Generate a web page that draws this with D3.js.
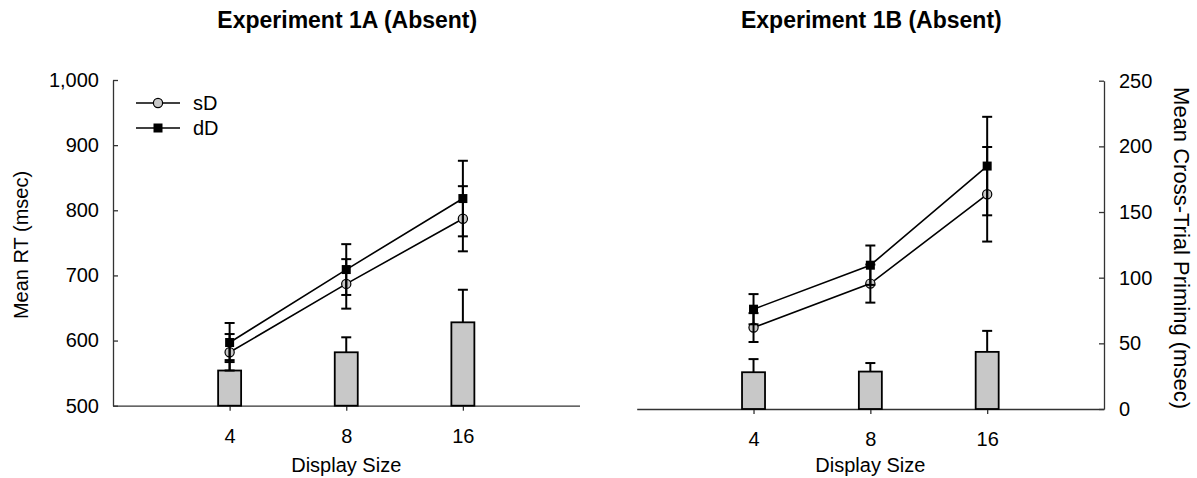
<!DOCTYPE html>
<html>
<head>
<meta charset="utf-8">
<script src="https://cdn.jsdelivr.net/npm/d3@7"></script>
<style>
  body { margin: 0; background: #fff; }
  svg { display: block; font-family: "Liberation Sans", Arial, Helvetica, sans-serif; }
</style>
</head>
<body>
<svg id="chart"></svg>
<script>
'use strict';

// display sizes on the x axis
var sizes = ['4', '8', '16'];

// Experiment 1A: mean RT (msec) and error bars
var exp1A_sD = [582, 687, 787];
var exp1A_sD_err = [28, 38, 50];
var exp1A_dD = [597, 709, 818];
var exp1A_dD_err = [30, 39, 58];
// cross-trial priming (msec), bars
var exp1A_prime = [27, 41, 64];
var exp1A_prime_err = [8, 11.5, 25];

// Experiment 1B
var exp1B_sD = [624, 691, 827];
var exp1B_sD_err = [22, 29, 72];
var exp1B_dD = [652, 719, 870];
var exp1B_dD_err = [23, 30, 75];
var exp1B_prime = [28, 28.5, 43.5];
var exp1B_prime_err = [10, 6.5, 16];

var rtTicks = [500, 600, 700, 800, 900, 1000];
var primeTicks = [0, 50, 100, 150, 200, 250];

var SVG_SIZE = { width: 1197, height: 478 };
var GREY = '#c8c8c8';
var AXIS = '#333';

var svg = d3.select('#chart')
    .attr('width', SVG_SIZE.width).attr('height', SVG_SIZE.height);

// draws one panel
function drawPanel(opt) {
    var x = d3.scaleLinear().domain([0, 4]).range([opt.left, opt.right]);
    var yRT = d3.scaleLinear().domain([500, 1000]).range([opt.bottom, opt.top]);
    var yPrime = d3.scaleLinear().domain([0, 250]).range([opt.bottom, opt.top]);
    var g = svg.append('g');

    // x axis
    var xAxis = d3.axisBottom(x)
        .tickValues([1, 2, 3])
        .tickFormat(function (d) { return sizes[d - 1]; })
        .tickSizeInner(5).tickSizeOuter(0).tickPadding(18);
    var xg = g.append('g')
        .attr('transform', 'translate(0,' + opt.bottom + ')')
        .call(xAxis);
    xg.selectAll('text').style('font-size', '20px').attr('fill', '#000');
    xg.selectAll('line,path').attr('stroke', AXIS).attr('stroke-width', 1.3);

    if (opt.side === 'left') {
        var yAxis = d3.axisLeft(yRT)
            .tickValues(rtTicks)
            .tickFormat(d3.format(','))
            .tickSizeInner(-5).tickSizeOuter(0).tickPadding(14);
        var yg = g.append('g')
            .attr('transform', 'translate(' + opt.left + ',0)')
            .call(yAxis);
        yg.selectAll('text').style('font-size', '20px').attr('fill', '#000');
        yg.selectAll('line,path').attr('stroke', AXIS).attr('stroke-width', 1.3);
    } else {
        var y2Axis = d3.axisRight(yPrime)
            .tickValues(primeTicks)
            .tickSizeInner(-5).tickSizeOuter(0).tickPadding(15);
        var y2g = g.append('g')
            .attr('transform', 'translate(' + opt.right + ',0)')
            .call(y2Axis);
        y2g.selectAll('text').style('font-size', '20px').attr('fill', '#000');
        y2g.selectAll('line,path').attr('stroke', AXIS).attr('stroke-width', 1.3);
    }

    var idx = [0, 1, 2];
    var barW = 23, cap = 5;

    // priming bars
    g.selectAll('rect.bar').data(idx).enter().append('rect')
        .attr('x', function (i) { return x(i + 1) - barW / 2; })
        .attr('y', function (i) { return yPrime(opt.prime[i]); })
        .attr('width', barW)
        .attr('height', function (i) { return yPrime(0) - yPrime(opt.prime[i]); })
        .attr('fill', GREY).attr('stroke', '#000').attr('stroke-width', 1.8);

    // one-sided bar error
    var be = g.selectAll('g.berr').data(idx).enter().append('g')
        .attr('stroke', '#000').attr('stroke-width', 2);
    be.append('line')
        .attr('x1', function (i) { return x(i + 1); })
        .attr('x2', function (i) { return x(i + 1); })
        .attr('y1', function (i) { return yPrime(opt.prime[i]); })
        .attr('y2', function (i) { return yPrime(opt.prime[i] + opt.primeErr[i]); });
    be.append('line')
        .attr('x1', function (i) { return x(i + 1) - cap; })
        .attr('x2', function (i) { return x(i + 1) + cap; })
        .attr('y1', function (i) { return yPrime(opt.prime[i] + opt.primeErr[i]); })
        .attr('y2', function (i) { return yPrime(opt.prime[i] + opt.primeErr[i]); });

    var series = [
        { vals: opt.sD, err: opt.sDErr, shape: 'circle' },
        { vals: opt.dD, err: opt.dDErr, shape: 'square' }
    ];

    var line = d3.line()
        .x(function (d, i) { return x(i + 1); })
        .y(function (d) { return yRT(d); });

    series.forEach(function (s) {
        g.append('path')
            .attr('d', line(s.vals))
            .attr('fill', 'none').attr('stroke', '#000').attr('stroke-width', 1.6);
    });

    series.forEach(function (s) {
        if (s.shape === 'circle') {
            g.selectAll(null).data(s.vals).enter().append('circle')
                .attr('cx', function (d, i) { return x(i + 1); })
                .attr('cy', function (d) { return yRT(d); })
                .attr('r', 4.6)
                .attr('fill', GREY).attr('stroke', '#000').attr('stroke-width', 1.2);
        } else {
            g.selectAll(null).data(s.vals).enter().append('rect')
                .attr('x', function (d, i) { return x(i + 1) - 4.5; })
                .attr('y', function (d) { return yRT(d) - 4.5; })
                .attr('width', 9).attr('height', 9)
                .attr('fill', '#000');
        }
    });

    // error bars for RT
    series.forEach(function (s) {
        var eg = g.selectAll(null).data(s.vals).enter().append('g')
            .attr('stroke', '#000').attr('stroke-width', 2);
        eg.append('line')
            .attr('x1', function (d, i) { return x(i + 1); })
            .attr('x2', function (d, i) { return x(i + 1); })
            .attr('y1', function (d, i) { return yRT(d + s.err[i]); })
            .attr('y2', function (d, i) { return yRT(d - s.err[i]); });
        [1, -1].forEach(function (sign) {
            eg.append('line')
                .attr('x1', function (d, i) { return x(i + 1) - cap; })
                .attr('x2', function (d, i) { return x(i + 1) + cap; })
                .attr('y1', function (d, i) { return yRT(d + sign * s.err[i]); })
                .attr('y2', function (d, i) { return yRT(d + sign * s.err[i]); });
        });
    });

    // titles
    var cx = x(2);
    g.append('text')
        .attr('x', cx + 1).attr('y', 28)
        .attr('text-anchor', 'middle')
        .style('font-size', '23px').style('font-weight', 'bold')
        .text(opt.title);
    g.append('text')
        .attr('x', cx).attr('y', 472)
        .attr('text-anchor', 'middle')
        .style('font-size', '20px')
        .text('Display Size');

    return { x: x, yRT: yRT };
}

drawPanel({
    side: 'left', left: 113, right: 579.5, top: 80, bottom: 405.7,
    title: 'Experiment 1A (Absent)',
    sD: exp1A_sD, sDErr: exp1A_sD_err, dD: exp1A_dD, dDErr: exp1A_dD_err,
    prime: exp1A_prime, primeErr: exp1A_prime_err
});

drawPanel({
    side: 'right', left: 636.7, right: 1104, top: 80.7, bottom: 409,
    title: 'Experiment 1B (Absent)',
    sD: exp1B_sD, sDErr: exp1B_sD_err, dD: exp1B_dD, dDErr: exp1B_dD_err,
    prime: exp1B_prime, primeErr: exp1B_prime_err
});

// y axis titles
svg.append('text')
    .attr('transform', 'translate(28,245) rotate(-90)')
    .attr('text-anchor', 'middle')
    .style('font-size', '20px')
    .text('Mean RT (msec)');
svg.append('text')
    .attr('transform', 'translate(1174,248) rotate(90)')
    .attr('text-anchor', 'middle')
    .style('font-size', '22px')
    .text('Mean Cross-Trial Priming (msec)');

// legend
var legendItems = [
    { label: 'sD', shape: 'circle', y: 103 },
    { label: 'dD', shape: 'square', y: 128 }
];
var lg = svg.append('g');
legendItems.forEach(function (it) {
    lg.append('line')
        .attr('x1', 136).attr('x2', 180).attr('y1', it.y).attr('y2', it.y)
        .attr('stroke', '#000').attr('stroke-width', 1.6);
    if (it.shape === 'circle') {
        lg.append('circle').attr('cx', 158).attr('cy', it.y).attr('r', 4.6)
            .attr('fill', GREY).attr('stroke', '#000').attr('stroke-width', 1.2);
    } else {
        lg.append('rect').attr('x', 153.5).attr('y', it.y - 4.5)
            .attr('width', 9).attr('height', 9).attr('fill', '#000');
    }
    lg.append('text')
        .attr('x', 193).attr('y', it.y).attr('dy', '0.35em')
        .style('font-size', '20px')
        .text(it.label);
});
</script>
</body>
</html>
